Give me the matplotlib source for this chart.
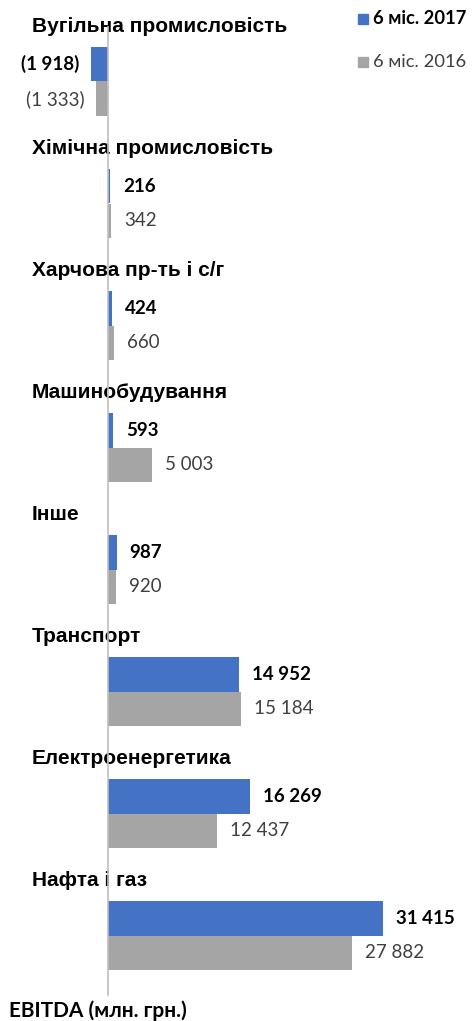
import matplotlib
matplotlib.use("Agg")
import matplotlib.pyplot as plt
from matplotlib.patches import Rectangle

categories = ["Вугільна промисловість", "Хімічна промисловість", "Харчова пр-ть і с/г",
              "Машинобудування", "Інше", "Транспорт", "Електроенергетика", "Нафта і газ"]
series_names = ["6 міс. 2017", "6 міс. 2016"]
values_2017 = [-1918, 216, 424, 593, 987, 14952, 16269, 31415]
values_2016 = [-1333, 342, 660, 5003, 920, 15184, 12437, 27882]

BLUE = "#4472C4"
GRAY = "#A5A5A5"
W, H = 473, 1021
DPI = 100

fig = plt.figure(figsize=(W / DPI, H / DPI), dpi=DPI)
ax = fig.add_axes([0, 0, 1, 1])
ppu = (383 - 108) / 31415.0           # pixels per value unit
ax.set_xlim(-108 / ppu, (W - 108) / ppu)
ax.set_ylim(H, 0)                      # y in pixel-like units, top to bottom
ax.axis("off")

pitch = 122.0
top0 = 47.0
bh = 34.5
xoff = 13 / ppu

def fmt(v):
    s = f"{abs(v):,}".replace(",", " ")
    return f"({s})" if v < 0 else s

value_font = "Lato"
vfs = 13.5
for i, cat in enumerate(categories):
    yb = top0 + pitch * i + bh / 2
    yg = yb + bh
    ax.barh(yb, values_2017[i], height=bh, color=BLUE, zorder=2)
    ax.barh(yg, values_2016[i], height=bh, color=GRAY, zorder=2)
    for v, y, w, c in ((values_2017[i], yb, "bold", "#000000"), (values_2016[i], yg, "normal", "#404040")):
        if v < 0:
            ax.text(v - xoff * 0.9, y, fmt(v), ha="right", va="center", fontsize=vfs,
                    fontweight=w, color=c, family=value_font)
        else:
            ax.text(v + xoff, y, fmt(v), ha="left", va="center", fontsize=vfs,
                    fontweight=w, color=c, family=value_font)
    ax.text(-76 / ppu, top0 + pitch * i - 15, cat, ha="left", va="baseline", fontsize=15,
            fontweight="bold", family="Liberation Sans", color="#000000", zorder=1)

# vertical axis line at zero
ax.plot([0, 0], [27, 995], color="#BFBFBF", lw=1.2, zorder=3)

# legend
for j, (name, col, wt) in enumerate(((series_names[0], BLUE, "bold"), (series_names[1], GRAY, "normal"))):
    yc = 19 + 43 * j
    fig.patches.append(Rectangle((358 / W, 1 - (yc + 5) / H), 10 / W, 10 / H,
                                 transform=fig.transFigure, color=col))
    fig.text(373 / W, 1 - yc / H, name, ha="left", va="center", fontsize=13.2,
             fontweight=wt, family=value_font, color="#000000" if wt == "bold" else "#404040")

fig.text(9 / W, 1 - 1011 / H, "EBITDA (млн. грн.)", ha="left", va="center", fontsize=15,
         fontweight="bold", family=value_font, color="#000000")

fig.savefig("out.png", dpi=DPI)
